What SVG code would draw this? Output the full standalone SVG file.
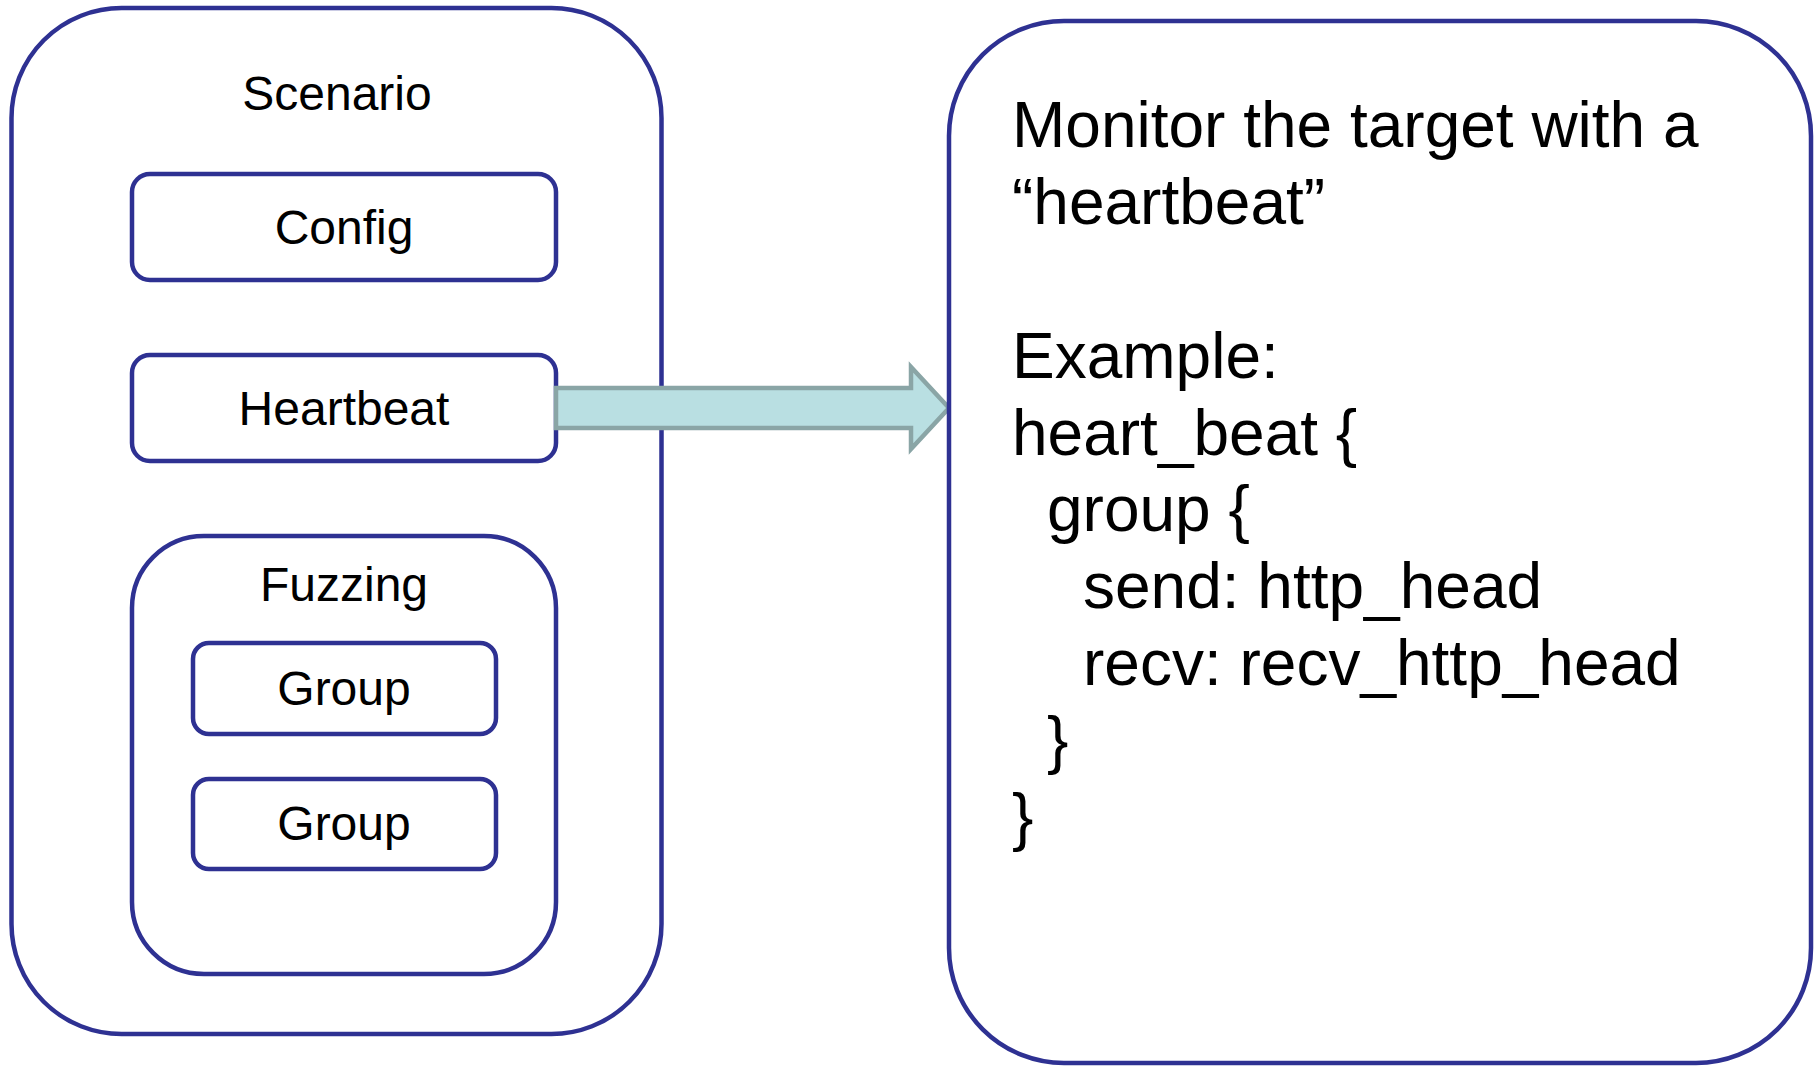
<svg xmlns="http://www.w3.org/2000/svg" width="1820" height="1067" viewBox="0 0 1820 1067">
<style>
.box{fill:#ffffff;stroke:#2e3192;stroke-width:4.5}
.lbl{font-family:"Liberation Sans",Arial,sans-serif;font-size:48px;fill:#000;text-anchor:middle}
.code{font-family:"Liberation Sans",Arial,sans-serif;font-size:64px;fill:#000}
.arrow{fill:#b9dfe2;stroke:#8aa5a6;stroke-width:4.5;stroke-linejoin:miter}
</style>
<rect width="1820" height="1067" fill="#ffffff"/>
<g id="scenario">
<rect class="box" x="11.5" y="8" width="650" height="1026" rx="110" ry="110"/>
<text class="lbl" x="337" y="110">Scenario</text>
</g>
<g id="config">
<rect class="box" x="132" y="174" width="424" height="106" rx="18" ry="18"/>
<text class="lbl" x="344" y="244">Config</text>
</g>
<g id="heartbeat">
<rect class="box" x="132" y="355" width="424" height="106" rx="18" ry="18"/>
<text class="lbl" x="344" y="425">Heartbeat</text>
</g>
<g id="fuzzing">
<rect class="box" x="132" y="536" width="424" height="438" rx="72" ry="72"/>
<text class="lbl" x="344" y="601">Fuzzing</text>
</g>
<g id="group1">
<rect class="box" x="193" y="643" width="303" height="91" rx="16" ry="16"/>
<text class="lbl" x="344" y="705">Group</text>
</g>
<g id="group2">
<rect class="box" x="193" y="779" width="303" height="90" rx="16" ry="16"/>
<text class="lbl" x="344" y="840">Group</text>
</g>
<g id="connectors">
<path class="arrow" d="M556,388 L911,388 L911,367 L949,408 L911,449 L911,428 L556,428 Z"/>
</g>
<g id="monitor">
<rect class="box" x="949" y="21" width="862" height="1042" rx="115" ry="115"/>
<text class="code" x="1012" y="147">Monitor the target with a</text>
<text class="code" x="1012" y="224">“heartbeat”</text>
<text class="code" x="1012" y="378">Example:</text>
<text class="code" x="1012" y="455">heart_beat {</text>
<text class="code" x="1047" y="531">group {</text>
<text class="code" x="1083" y="608">send: http_head</text>
<text class="code" x="1083" y="685">recv: recv_http_head</text>
<text class="code" x="1047" y="762">}</text>
<text class="code" x="1012" y="839">}</text>
</g>
</svg>
